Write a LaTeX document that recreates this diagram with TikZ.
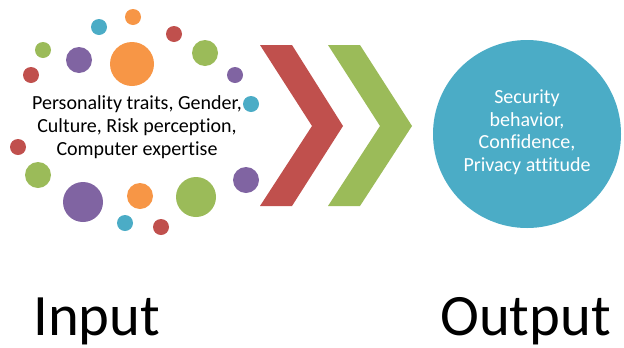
\documentclass[tikz,border=0pt]{standalone}
\usepackage{fontspec}
\setmainfont[Ligatures=CommonOff]{Carlito}
\definecolor{ored}{HTML}{C0504D}
\definecolor{ogreen}{HTML}{9BBB59}
\definecolor{opurple}{HTML}{8064A2}
\definecolor{oorange}{HTML}{F79646}
\definecolor{ocyan}{HTML}{4BACC6}
\begin{document}
\begin{tikzpicture}[x=0.75pt,y=-0.75pt,
  dot/.style={fill=#1,draw=none},
  biglabel/.style={font=\fontsize{44pt}{48pt}\selectfont,anchor=base west,inner sep=0pt}]
\useasboundingbox (0,0) rectangle (624,347);
% dots
\fill[dot=oorange] (133,17) circle[radius=8];
\fill[dot=ocyan] (99,27) circle[radius=8];
\fill[dot=ored] (174,34) circle[radius=8];
\fill[dot=ogreen] (43,50) circle[radius=8];
\fill[dot=opurple] (79,60) circle[radius=13];
\fill[dot=oorange] (132,64) circle[radius=22];
\fill[dot=ogreen] (205,53) circle[radius=13];
\fill[dot=ored] (31,75) circle[radius=8];
\fill[dot=opurple] (235,75) circle[radius=8];
\fill[dot=ocyan] (251,104) circle[radius=8];
\fill[dot=ored] (18,147) circle[radius=8];
\fill[dot=ogreen] (38,175) circle[radius=13];
\fill[dot=opurple] (83,202) circle[radius=20];
\fill[dot=oorange] (140,196) circle[radius=13];
\fill[dot=ogreen] (196,197) circle[radius=20];
\fill[dot=opurple] (246,180) circle[radius=13];
\fill[dot=ocyan] (125,223) circle[radius=8];
\fill[dot=ored] (161,227) circle[radius=8];
\node[align=center,font=\fontsize{15pt}{17.3pt}\selectfont,inner sep=0pt] (intext) at (137,127)
  {Personality traits, Gender,\\Culture, Risk perception,\\Computer expertise};
% chevrons
\fill[ored] (260,45) -- (292,45) -- (343,126) -- (292,206) -- (260,206) -- (312,126) -- cycle;
\fill[ogreen] (328,45) -- (360,45) -- (412,126) -- (360,206) -- (328,206) -- (380,126) -- cycle;
% output circle
\node[circle,fill=ocyan,minimum size=188*0.75pt,inner sep=0pt] (out) at (527,134) {};
\node[align=center,text=white,font=\fontsize{15pt}{16.9pt}\selectfont,inner sep=0pt] (outtext) at (527,132)
  {Security\\behavior,\\Confidence,\\Privacy attitude};
\node[biglabel] (inlabel) at (33,335) {Input};
\node[biglabel] (outlabel) at (440,335) {Output};
\end{tikzpicture}
\end{document}
